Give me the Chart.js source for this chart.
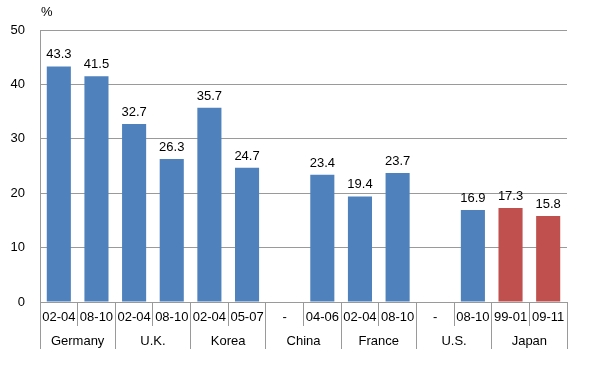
<!DOCTYPE html>
<html>
<head>
<meta charset="utf-8">
<script src="https://cdn.jsdelivr.net/npm/chart.js@4/dist/chart.umd.min.js"></script>
<style>
html,body{margin:0;padding:0;background:#fff;}
#wrap{width:598px;height:366px;}
</style>
</head>
<body>
<div id="wrap"><canvas id="c" width="598" height="366"></canvas></div>
<script>
const periods = ["02-04","08-10","02-04","08-10","02-04","05-07","-","04-06","02-04","08-10","-","08-10","99-01","09-11"];
const countries = ["Germany","U.K.","Korea","China","France","U.S.","Japan"];
const values = [43.3,41.5,32.7,26.3,35.7,24.7,null,23.4,19.4,23.7,null,16.9,17.3,15.8];
const barColors = ["#4f81bd","#4f81bd","#4f81bd","#4f81bd","#4f81bd","#4f81bd","#4f81bd","#4f81bd","#4f81bd","#4f81bd","#4f81bd","#4f81bd","#c0504d","#c0504d"];
const yTicks = [0,10,20,30,40,50];

const FONT = "'Liberation Sans', Arial, sans-serif";
const GRID = "#9a9a9a";

const labelPlugin = {
  id: 'valueLabels',
  afterDatasetsDraw(chart) {
    const ctx = chart.ctx;
    const meta = chart.getDatasetMeta(0);
    ctx.save();
    ctx.font = "13px " + FONT;
    ctx.fillStyle = "#000";
    ctx.textAlign = "center";
    ctx.textBaseline = "alphabetic";
    meta.data.forEach((bar, i) => {
      const v = values[i];
      if (v === null || v === undefined) return;
      ctx.fillText(v.toFixed(1), bar.x, bar.y - 8);
    });
    ctx.font = "13px " + FONT;
    ctx.textAlign = "left";
    ctx.fillText("%", chart.chartArea.left + 1, chart.chartArea.top - 14);
    ctx.restore();
  }
};

new Chart(document.getElementById('c'), {
  type: 'bar',
  data: {
    labels: periods,
    datasets: [{
      data: values,
      backgroundColor: barColors,
      borderWidth: 0,
      barPercentage: 0.64,
      categoryPercentage: 1.0
    }]
  },
  options: {
    responsive: false,
    animation: false,
    devicePixelRatio: 1,
    layout: { padding: { left: 0, right: 31, top: 30, bottom: 17 } },
    plugins: { legend: { display: false }, tooltip: { enabled: false } },
    scales: {
      y: {
        min: 0, max: 50,
        afterBuildTicks: (s) => { s.ticks = yTicks.map(v => ({ value: v })); },
        afterFit: (s) => { s.width = 40; },
        grid: { color: GRID, drawTicks: false, lineWidth: 1 },
        border: { color: GRID },
        ticks: { color: "#000", font: { family: FONT, size: 13 }, padding: 15 }
      },
      x: {
        position: 'bottom',
        afterFit: (s) => { s.height = 24; },
        grid: { drawOnChartArea: false, color: GRID, tickLength: 24, offset: true },
        border: { color: GRID },
        ticks: { color: "#000", font: { family: FONT, size: 13 }, padding: -16, maxRotation: 0, autoSkip: false }
      },
      x2: {
        type: 'category',
        labels: countries,
        position: 'bottom',
        offset: true,
        afterFit: (s) => { s.height = 23; },
        grid: { drawOnChartArea: false, color: GRID, tickLength: 23, offset: true },
        border: { display: false },
        ticks: { color: "#000", font: { family: FONT, size: 13 }, padding: -15, maxRotation: 0, autoSkip: false }
      }
    }
  },
  plugins: [labelPlugin]
});
</script>
</body>
</html>
